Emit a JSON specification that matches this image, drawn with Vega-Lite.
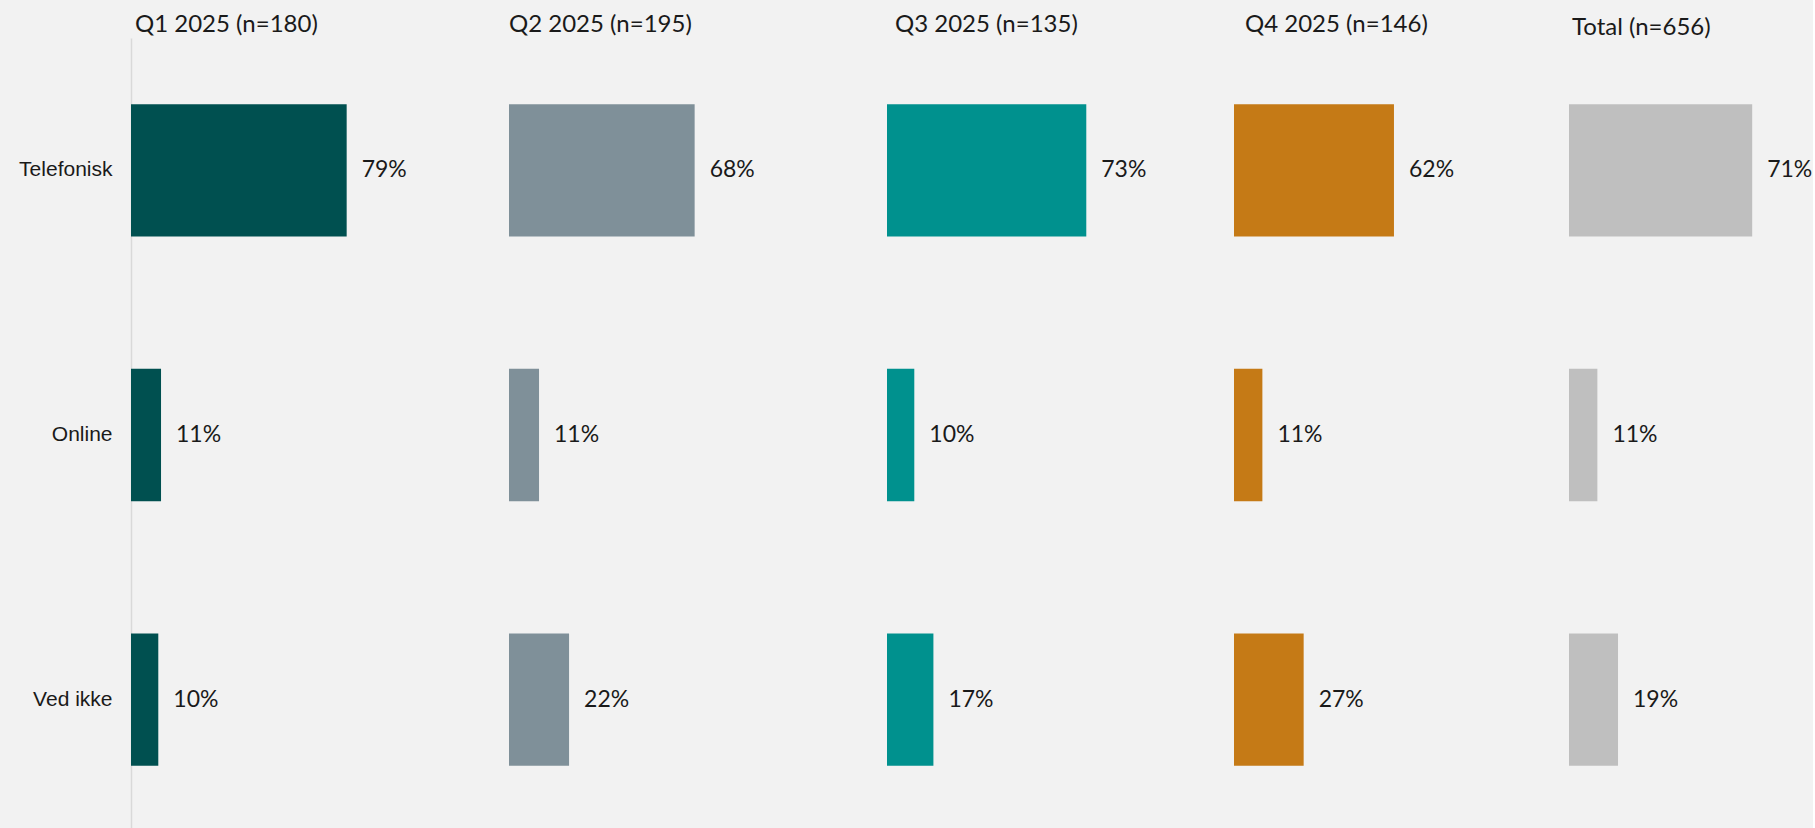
{
  "$schema": "https://vega.github.io/schema/vega-lite/v6.json",
  "background": "#f2f2f2",
  "padding": {"left": 18, "top": 13, "right": 0, "bottom": 0},
  "bounds": "flush",
  "spacing": 0,
  "data": {
    "values": [
      {"period": "Q1 2025", "answer": "Telefonisk", "value": 0.79},
      {"period": "Q1 2025", "answer": "Online", "value": 0.11},
      {"period": "Q1 2025", "answer": "Ved ikke", "value": 0.10},
      {"period": "Q2 2025", "answer": "Telefonisk", "value": 0.68},
      {"period": "Q2 2025", "answer": "Online", "value": 0.11},
      {"period": "Q2 2025", "answer": "Ved ikke", "value": 0.22},
      {"period": "Q3 2025", "answer": "Telefonisk", "value": 0.73},
      {"period": "Q3 2025", "answer": "Online", "value": 0.10},
      {"period": "Q3 2025", "answer": "Ved ikke", "value": 0.17},
      {"period": "Q4 2025", "answer": "Telefonisk", "value": 0.62},
      {"period": "Q4 2025", "answer": "Online", "value": 0.11},
      {"period": "Q4 2025", "answer": "Ved ikke", "value": 0.27},
      {"period": "Total", "answer": "Telefonisk", "value": 0.71},
      {"period": "Total", "answer": "Online", "value": 0.11},
      {"period": "Total", "answer": "Ved ikke", "value": 0.19}
    ]
  },
  "resolve": {"scale": {"x": "independent"}},
  "config": {
    "view": {"stroke": null},
    "title": {"font": "Lato", "fontSize": 24, "fontWeight": "normal", "color": "#1a1a1a", "anchor": "start", "frame": "group", "baseline": "alphabetic", "offset": 1},
    "text": {"font": "Lato", "fontSize": 23, "color": "#1a1a1a", "align": "left", "baseline": "middle", "dx": 15}
  },
  "hconcat": [
    {
      "width": 378, "height": 794,
      "title": {"text": "Q1 2025 (n=180)", "dx": 4},
      "transform": [{"filter": "datum.period === 'Q1 2025'"}],
      "encoding": {
        "y": {"field": "answer", "type": "nominal", "sort": ["Telefonisk", "Online", "Ved ikke"], "scale": {"paddingInner": 0.5, "paddingOuter": 0.25},
          "axis": {"title": null, "ticks": false, "labelPadding": 19, "labelFont": "Liberation Sans", "labelFontSize": 21, "labelColor": "#1a1a1a", "domainColor": "#d9d9d9", "domainWidth": 1.5, "grid": false}},
        "x": {"field": "value", "type": "quantitative", "scale": {"domain": [0, 1.3846], "nice": false, "zero": true}, "axis": null}
      },
      "layer": [
        {"mark": {"type": "bar", "color": "#005050"}},
        {"mark": {"type": "text"}, "encoding": {"text": {"field": "value", "type": "quantitative", "format": ".0%"}}}
      ]
    },
    {
      "width": 378, "height": 794,
      "title": {"text": "Q2 2025 (n=195)", "dx": 0},
      "transform": [{"filter": "datum.period === 'Q2 2025'"}],
      "encoding": {
        "y": {"field": "answer", "type": "nominal", "sort": ["Telefonisk", "Online", "Ved ikke"], "scale": {"paddingInner": 0.5, "paddingOuter": 0.25}, "axis": null},
        "x": {"field": "value", "type": "quantitative", "scale": {"domain": [0, 1.3846], "nice": false, "zero": true}, "axis": null}
      },
      "layer": [
        {"mark": {"type": "bar", "color": "#7f9099"}},
        {"mark": {"type": "text"}, "encoding": {"text": {"field": "value", "type": "quantitative", "format": ".0%"}}}
      ]
    },
    {
      "width": 347, "height": 794,
      "title": {"text": "Q3 2025 (n=135)", "dx": 8},
      "transform": [{"filter": "datum.period === 'Q3 2025'"}],
      "encoding": {
        "y": {"field": "answer", "type": "nominal", "sort": ["Telefonisk", "Online", "Ved ikke"], "scale": {"paddingInner": 0.5, "paddingOuter": 0.25}, "axis": null},
        "x": {"field": "value", "type": "quantitative", "scale": {"domain": [0, 1.2711], "nice": false, "zero": true}, "axis": null}
      },
      "layer": [
        {"mark": {"type": "bar", "color": "#00918e"}},
        {"mark": {"type": "text"}, "encoding": {"text": {"field": "value", "type": "quantitative", "format": ".0%"}}}
      ]
    },
    {
      "width": 335, "height": 794,
      "title": {"text": "Q4 2025 (n=146)", "dx": 11},
      "transform": [{"filter": "datum.period === 'Q4 2025'"}],
      "encoding": {
        "y": {"field": "answer", "type": "nominal", "sort": ["Telefonisk", "Online", "Ved ikke"], "scale": {"paddingInner": 0.5, "paddingOuter": 0.25}, "axis": null},
        "x": {"field": "value", "type": "quantitative", "scale": {"domain": [0, 1.2984], "nice": false, "zero": true}, "axis": null}
      },
      "layer": [
        {"mark": {"type": "bar", "color": "#c57a16"}},
        {"mark": {"type": "text"}, "encoding": {"text": {"field": "value", "type": "quantitative", "format": ".0%"}}}
      ]
    },
    {
      "width": 240, "height": 794,
      "title": {"text": "Total (n=656)", "dx": 3, "dy": 3},
      "transform": [{"filter": "datum.period === 'Total'"}],
      "encoding": {
        "y": {"field": "answer", "type": "nominal", "sort": ["Telefonisk", "Online", "Ved ikke"], "scale": {"paddingInner": 0.5, "paddingOuter": 0.25}, "axis": null},
        "x": {"field": "value", "type": "quantitative", "scale": {"domain": [0, 0.9302], "nice": false, "zero": true}, "axis": null}
      },
      "layer": [
        {"mark": {"type": "bar", "color": "#bfbfbf"}},
        {"mark": {"type": "text"}, "encoding": {"text": {"field": "value", "type": "quantitative", "format": ".0%"}}}
      ]
    }
  ]
}
